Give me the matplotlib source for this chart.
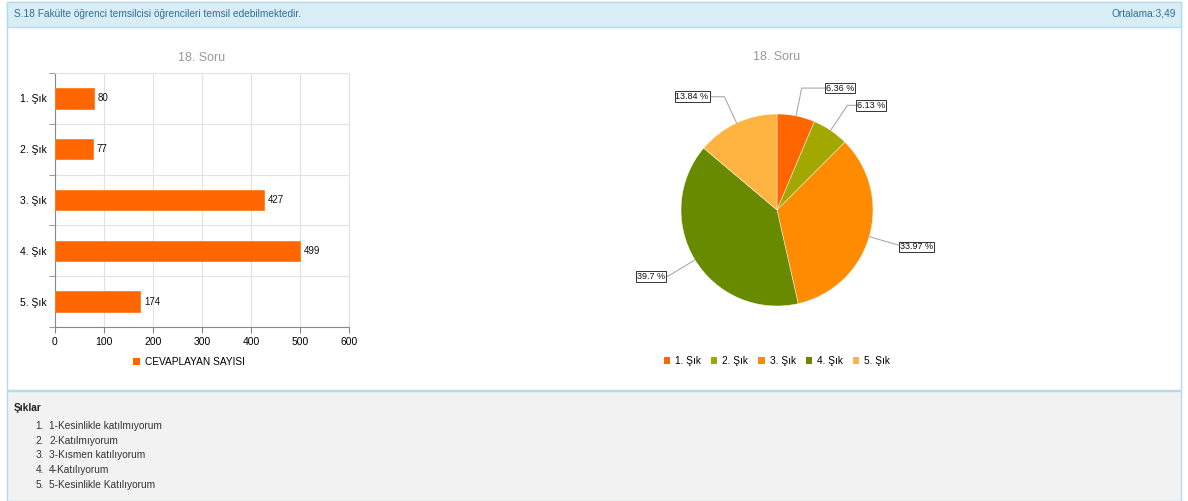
import matplotlib
matplotlib.use("Agg")
import matplotlib.pyplot as plt
from matplotlib.patches import Rectangle
import numpy as np

plt.rcParams['font.family'] = ['Liberation Sans', 'DejaVu Sans']

# data
categories = ['1. Şık', '2. Şık', '3. Şık', '4. Şık', '5. Şık']
counts = [80, 77, 427, 499, 174]
pie_colors = ['#ff6600', '#a3a800', '#ff8c00', '#678a00', '#ffb340']
choices = ['1-Kesinlikle katılmıyorum', '2-Katılmıyorum', '3-Kısmen katılıyorum',
           '4-Katılıyorum', '5-Kesinlikle Katılıyorum']
question = 'S.18 Fakülte öğrenci temsilcisi öğrencileri temsil edebilmektedir.'
average_text = 'Ortalama:3,49'
chart_title = '18. Soru'
series_name = 'CEVAPLAYAN SAYISI'

W, H = 1188, 501
fig = plt.figure(figsize=(W / 100, H / 100), dpi=100)


def px(x, y):
    # pixel (from top-left) -> figure fraction
    return x / W, 1 - y / H


def box(x0, y0, x1, y1):
    return [x0 / W, 1 - y1 / H, (x1 - x0) / W, (y1 - y0) / H]


# page frame, header bar and bottom grey section
border = '#b5dbef'
for (x0, y0, x1, y1, fc) in [(7, 2, 1181, 390, 'white'),
                             (7, 2, 1181, 27, '#d9edf7'),
                             (7, 391, 1181, H, '#f2f2f2')]:
    fig.patches.append(Rectangle((x0 / W, 1 - y1 / H), (x1 - x0) / W, (y1 - y0) / H,
                                 transform=fig.transFigure, facecolor=fc,
                                 edgecolor=border, lw=1, zorder=-5))

fig.text(*px(14, 14), question, fontsize=7.3, color='#31708f', va='center', ha='left')
fig.text(*px(1176, 14), average_text, fontsize=7.3, color='#31708f', va='center', ha='right')

# list of choices
fig.text(*px(14, 408), 'Şıklar', fontsize=7.3, fontweight='bold', color='#222222', va='center')
for i, c in enumerate(choices):
    y = 426 + i * 14.7
    fig.text(*px(44, y), f'{i + 1}.', fontsize=7.3, color='#333333', va='center', ha='right')
    fig.text(*px(49, y), c, fontsize=7.3, color='#333333', va='center', ha='left')

# ---- bar chart ----
ax = fig.add_axes(box(55, 73, 349, 327))
ypos = list(range(len(categories)))
bars = ax.barh(ypos, counts, height=0.4, color='#ff6600', edgecolor='#ff7f2a',
               lw=0.6, zorder=3, label=series_name)
for y, v in zip(ypos, counts):
    ax.text(v + 8, y, str(v), fontsize=7, va='center', ha='left', color='#111111')
ax.set_xlim(0, 600)
ax.set_ylim(len(categories) - 0.5, -0.5)
ax.set_xticks(range(0, 601, 100))
ax.set_yticks(ypos)
ax.set_yticklabels(categories)
ax.set_yticks([i - 0.5 for i in range(len(categories) + 1)], minor=True)
ax.tick_params(axis='y', which='major', length=0, pad=6, labelsize=7.5)
ax.tick_params(axis='y', which='minor', length=4, color='#888888')
ax.tick_params(axis='x', length=4, color='#888888', labelsize=7.5, pad=3)
ax.grid(axis='x', color='#e2e2e2', lw=0.8, zorder=0)
ax.grid(axis='y', which='minor', color='#e2e2e2', lw=0.8, zorder=0)
for s in ['top', 'right']:
    ax.spines[s].set_color('#e2e2e2')
for s in ['left', 'bottom']:
    ax.spines[s].set_color('#888888')
ax.set_title(chart_title, fontsize=9, color='#999999', pad=9)
fig.legend(handles=[Rectangle((0, 0), 1, 1, fc='#ff6600')], labels=[series_name],
           loc='center', bbox_to_anchor=px(189, 362), frameon=False, fontsize=7.3,
           handlelength=0.6, handleheight=0.6, handletextpad=0.5)

# ---- pie chart ----
R = 96
pax = fig.add_axes(box(777 - 200, 210 - 200, 777 + 200, 210 + 200))
wedges, _ = pax.pie(counts, colors=pie_colors, startangle=90, counterclock=False,
                    radius=1.0, wedgeprops=dict(edgecolor='white', lw=0.3))
pax.set_xlim(-200 / R, 200 / R)
pax.set_ylim(-200 / R, 200 / R)
pax.set_aspect('equal')
pax.axis('off')
total = sum(counts)
label_pos = [(0.66, 1.27), (0.98, 1.09), (1.45, -0.385), (-1.31, -0.69), (-0.885, 1.18)]
for w, v, (lx, ly) in zip(wedges, counts, label_pos):
    mid = (w.theta1 + w.theta2) / 2
    ang = np.deg2rad(mid)
    pct = round(v / total * 100, 2)
    txt = f'{pct:g} %'
    pax.annotate(txt, xy=(np.cos(ang), np.sin(ang)), xytext=(lx, ly),
                 fontsize=6.5, ha='center', va='center', color='#111111',
                 bbox=dict(boxstyle='square,pad=0.1', fc='white', ec='#333333', lw=0.7),
                 arrowprops=dict(arrowstyle='-', color='#aaaaaa', lw=0.8,
                                 shrinkA=0, shrinkB=0,
                                 connectionstyle=f'angle,angleA=0,angleB={mid},rad=0'))
fig.text(*px(777, 57), chart_title, fontsize=9, color='#999999', ha='center', va='center')
handles = [Rectangle((0, 0), 1, 1, fc=c) for c in pie_colors]
fig.legend(handles=handles, labels=categories, loc='center', ncol=5,
           bbox_to_anchor=px(777, 361), frameon=False, fontsize=7.3,
           handlelength=0.6, handleheight=0.6, handletextpad=0.5, columnspacing=1.0)

fig.savefig('out.png', dpi=100)
